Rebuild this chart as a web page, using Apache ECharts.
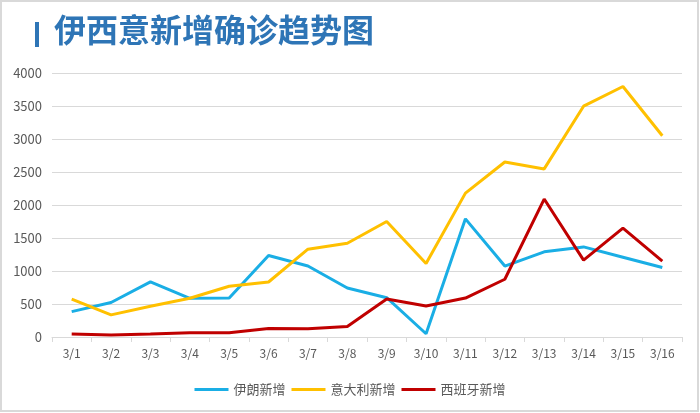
<!DOCTYPE html>
<html><head><meta charset="utf-8">
<script src="https://cdn.jsdelivr.net/npm/echarts@6/dist/echarts.min.js"></script>
<style>html,body{margin:0;padding:0;background:#fff}#c{width:700px;height:413px}</style>
</head><body><div id="c"></div>
<script>
const categories = ['3/1','3/2','3/3','3/4','3/5','3/6','3/7','3/8','3/9','3/10','3/11','3/12','3/13','3/14','3/15','3/16'];
const iran = [385, 523, 835, 586, 591, 1234, 1076, 743, 595, 49, 1790, 1075, 1290, 1365, 1209, 1053];
const italy = [573, 335, 466, 587, 769, 833, 1330, 1420, 1750, 1115, 2180, 2651, 2547, 3497, 3795, 3050];
const spain = [45, 31, 45, 65, 65, 130, 125, 160, 575, 470, 590, 875, 2090, 1165, 1650, 1150];
const yTicks = [0, 500, 1000, 1500, 2000, 2500, 3000, 3500, 4000];
const seriesNames = ['伊朗新增', '意大利新增', '西班牙新增'];
const titleText = '伊西意新增确诊趋势图';

const chart = echarts.init(document.getElementById('c'));
const font = '"Microsoft YaHei","Noto Sans CJK SC",sans-serif';
chart.setOption({
  animation: false,
  textStyle: { fontFamily: font },
  graphic: [
    { type: 'rect', shape: { x: 1, y: 1, width: 697, height: 410 }, style: { fill: 'none', stroke: '#d9d9d9', lineWidth: 2 } },
    { type: 'rect', shape: { x: 35, y: 22, width: 4, height: 25 }, style: { fill: '#2e75b6' } },
    { type: 'text', left: 54, top: 14, style: { text: titleText, font: 'bold 32px ' + font, fill: '#2e75b6' } }
  ],
  legend: {
    bottom: 12, left: 'center', itemWidth: 34, itemHeight: 3, itemGap: 6,
    icon: 'rect',
    textStyle: { color: '#595959', fontSize: 13, fontFamily: font },
    data: seriesNames
  },
  grid: { left: 52, right: 18, top: 73, bottom: 76 },
  xAxis: {
    type: 'category', data: categories, boundaryGap: true,
    axisLine: { lineStyle: { color: '#d9d9d9' } },
    axisTick: { show: true, alignWithLabel: false, lineStyle: { color: '#d9d9d9' } },
    axisLabel: { color: '#595959', fontSize: 12, margin: 10, interval: 0 }
  },
  yAxis: {
    type: 'value', min: yTicks[0], max: yTicks[yTicks.length - 1], interval: 500,
    axisLine: { show: false }, axisTick: { show: false },
    axisLabel: { color: '#595959', fontSize: 13, margin: 10, formatter: v => String(v) },
    splitLine: { lineStyle: { color: '#d9d9d9' } }
  },
  series: [
    { name: seriesNames[0], type: 'line', data: iran, symbol: 'none', lineStyle: { width: 3, color: '#1aaee5' }, itemStyle: { color: '#1aaee5' } },
    { name: seriesNames[1], type: 'line', data: italy, symbol: 'none', lineStyle: { width: 3, color: '#ffc000' }, itemStyle: { color: '#ffc000' } },
    { name: seriesNames[2], type: 'line', data: spain, symbol: 'none', lineStyle: { width: 3, color: '#c00000' }, itemStyle: { color: '#c00000' } }
  ]
});
</script></body></html>
